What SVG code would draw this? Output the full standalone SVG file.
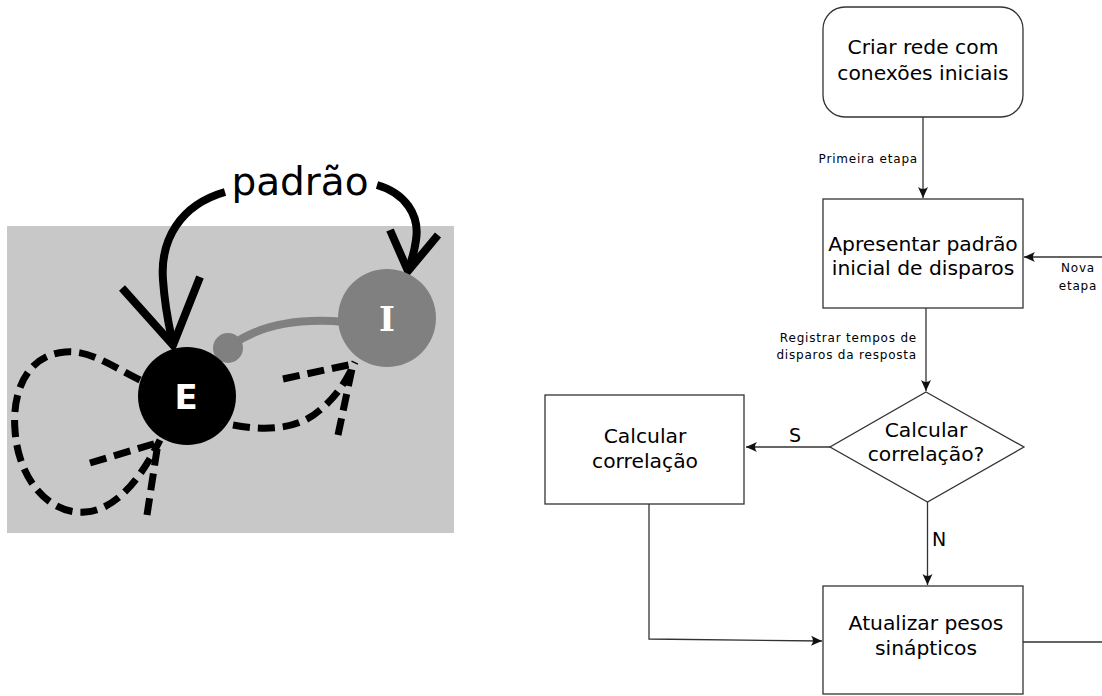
<svg xmlns="http://www.w3.org/2000/svg" width="1102" height="696" viewBox="0 0 1102 696">
<style>
.thick{fill:none;stroke:#000;stroke-width:8}
.dash{fill:none;stroke:#000;stroke-width:7;stroke-dasharray:17 8}
.box{fill:#fff;stroke:#333;stroke-width:1.3}
.con{fill:none;stroke:#333;stroke-width:1.3}
.t{font-family:"DejaVu Sans",sans-serif;font-size:20.3px;fill:#000;text-anchor:middle}
.s{font-family:"DejaVu Sans",sans-serif;font-size:12px;fill:#000;letter-spacing:0.8px}
</style>
<defs>
<marker id="ah" markerUnits="userSpaceOnUse" markerWidth="14" markerHeight="12" viewBox="-12 -6 14 12" refX="0" refY="0" orient="auto">
<path d="M0,0 L-11,-5 Q-7,0 -11,5 Z" fill="#111"/>
</marker>
</defs>
<g id="network">
<rect x="7" y="226" width="447" height="307" fill="#c8c8c8"/>
<text x="300" y="195" font-family="DejaVu Sans,sans-serif" font-size="39" text-anchor="middle" fill="#000">padrão</text>
<path class="thick" d="M225,192 C180,205 160,240 163,280 C165,310 170,330 173,345"/>
<polyline class="thick" points="122,288 173,345 200,277"/>
<path class="thick" d="M377,185 C405,193 420,215 416,240 C414,255 410,265 408,270"/>
<polyline class="thick" points="390,230 408,271 438,235"/>
<path class="dash" d="M140,380 C110,365 90,350 65,352 C25,355 12,395 15,430 C18,480 50,515 85,512 C120,510 145,470 160,440"/>
<path class="dash" d="M90,463 L160,442"/>
<path class="dash" d="M147,515 L158,443"/>
<path class="dash" d="M233,425 C270,432 300,428 320,410 C338,395 348,378 355,362"/>
<path class="dash" d="M283,379 L353,364"/>
<path class="dash" d="M338,435 L353,364"/>
<path d="M232,345 C260,325 300,318 345,322" fill="none" stroke="#808080" stroke-width="8"/>
<circle cx="228" cy="348" r="15" fill="#808080"/>
</g>
<g id="nodeE">
<circle cx="187" cy="396" r="49" fill="#000"/>
<text x="186" y="409" font-family="DejaVu Sans,sans-serif" font-size="34" font-weight="bold" text-anchor="middle" fill="#fff">E</text>
</g>
<g id="nodeI">
<circle cx="387" cy="318" r="49" fill="#808080"/>
<text x="387" y="331" font-family="DejaVu Serif,serif" font-size="34" font-weight="bold" text-anchor="middle" fill="#fff">I</text>
</g>
<g id="connectors">
<path class="con" d="M923,117 L923,198" marker-end="url(#ah)"/>
<text class="s" x="918" y="163" text-anchor="end">Primeira etapa</text>
<path class="con" d="M926,308 L926,391" marker-end="url(#ah)"/>
<text class="s" x="917" y="342" text-anchor="end">Registrar tempos de</text>
<text class="s" x="917" y="359" text-anchor="end">disparos da resposta</text>
<path class="con" d="M830,447 L746,447" marker-end="url(#ah)"/>
<text x="795" y="442" font-family="DejaVu Sans,sans-serif" font-size="19" text-anchor="middle">S</text>
<path class="con" d="M927.5,502 L927.5,585" marker-end="url(#ah)"/>
<text x="939" y="546" font-family="DejaVu Sans,sans-serif" font-size="19" text-anchor="middle">N</text>
<path class="con" d="M649,504 L649,639 L822,641" marker-end="url(#ah)"/>
<path class="con" d="M1023,642 L1104,642 L1104,257 L1024,257" marker-end="url(#ah)"/>
<text class="s" x="1078" y="272" text-anchor="middle">Nova</text>
<text class="s" x="1078" y="290" text-anchor="middle">etapa</text>
</g>
<g id="criar">
<rect class="box" x="823" y="7" width="200" height="110" rx="22"/>
<text class="t" x="923" y="54">Criar rede com</text>
<text class="t" x="923" y="80">conexões iniciais</text>
</g>
<g id="apresentar">
<rect class="box" x="823" y="199" width="200" height="109"/>
<text class="t" x="923" y="251">Apresentar padrão</text>
<text class="t" x="923" y="275">inicial de disparos</text>
</g>
<g id="decisao">
<polygon class="box" points="926,392 1024,447 927.5,502 830,447"/>
<text class="t" x="926" y="437">Calcular</text>
<text class="t" x="926" y="461">correlação?</text>
</g>
<g id="correlacao">
<rect class="box" x="545" y="395" width="199" height="109"/>
<text class="t" x="645" y="443">Calcular</text>
<text class="t" x="645" y="468">correlação</text>
</g>
<g id="atualizar">
<rect class="box" x="823" y="586" width="200" height="108"/>
<text class="t" x="926" y="630">Atualizar pesos</text>
<text class="t" x="926" y="655">sinápticos</text>
</g>
</svg>
